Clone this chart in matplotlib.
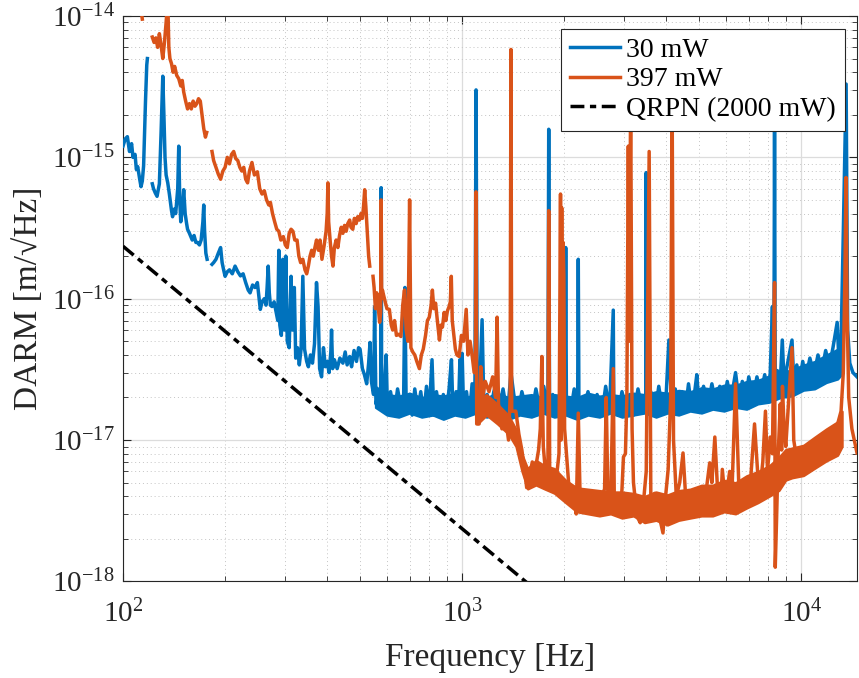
import numpy as np
import matplotlib
matplotlib.use("Agg")
import matplotlib.pyplot as plt
from matplotlib.ticker import LogLocator, NullFormatter

plt.rcParams['font.family'] = ['Liberation Serif', 'DejaVu Serif']
plt.rcParams['mathtext.fontset'] = 'custom'
plt.rcParams['mathtext.rm'] = 'Liberation Serif'
plt.rcParams['mathtext.it'] = 'Liberation Serif:italic'
plt.rcParams['axes.unicode_minus'] = False

# DARM ASD, values in units of 1e-18 m/sqrt(Hz)
UNIT = 1e-18
nan = np.nan

# 30 mW trace (nan = gap in the data)
blue_f = [100, 101.5, 103, 104.5, 106, 107, 108.5, 109.5, 110.5, 112, 113, 114, 115, 116.5, 117.5, 118, nan,
          122, 123, 124.5, 126, 128, 129.5, 131, 132, 133, 134, 135.5, 137, 139, 140, 141.5, 143, 145, 146, 147,
          148, 149.5, 151, 152.5, 154, 155, 157, 160, 162, 164, 166, 168, 170, 172, 173, 174, 175.5, 177, nan,
          183, 185, 188, 191, 194, 196, 198, 200, 203, 206, 210, 214, 218, 222, 226, 230, 234, 237, 241, 245,
          249, 252, 254, 257, 261, 264, 266, 268, 270, 272, 275, 279, 283, 286, 288, 290, 293, 296, 299, 302,
          305, 309, 313, 316, 320, 323, 327, 331, 335, 339, 343, 348, 352, 357, 362, 367, 372, 376, 380, 385,
          390, 395, 400, 405, 410, 412, 415, 420, 428, 436, 445, 452, 458, 466, 472, 480, 488, 495, 500, 508,
          515, 523, 530, 535, 540, 548, 552, 557, 565, 572, 575, 577, 579, 585, 590, 597, 602, 615, 630, 645,
          660, 672, 678, 684, 700, 712, 725, 740, 755, 770, 785, 800, 815, 825, 840, 860, 880, 900, 915, 930,
          940, 960, 975, 985, 992, 1000, 1010, 1030, 1050, 1070, 1090, 1099, 1108, 1125, 1145, 1160, 1185, 1210,
          1240, 1262, 1280, 1320, 1360, 1393, 1420, 1460, 1500, 1550, 1600, 1650, 1700, 1740, 1790, 1800, 1810,
          1850, 1900, 1950, 2010, 2020, 2030, 2080, 2140, 2190, 2200, 2210, 2280, 2350, 2420, 2500, 2580, 2650,
          2720, 2790, 2800, 2880, 2960, 3040, 3120, 3200, 3300, 3400, 3480, 3490, 3500, 3600, 3700, 3800, 3900,
          4000, 4070, 4150, 4250, 4350, 4450, 4550, 4650, 4750, 4850, 4920, 5000, 5150, 5300, 5450, 5600, 5750,
          5900, 6050, 6200, 6400, 6550, 6700, 6850, 7000, 7200, 7400, 7600, 7800, 8000, 8100, 8220, 8300, 8340,
          8380, 8500, 8650, 8790, 8900, 9050, 9390, 9500, 9700, 9900, 10100, 10300, 10600, 10900, 11200, 11500,
          11800, 12100, 12400, 12760, 12900, 13100, 13300, 13560, 13700, 13900, 14200, 14600]
blue_asd = [1200, 1350, 1400, 1100, 1250, 1000, 1050, 820, 860, 700, 620, 680, 870, 2500, 4500, 5000, nan,
            650, 600, 560, 530, 650, 1500, 3750, 2000, 1000, 750, 660, 550, 420, 380, 430, 400, 600, 1200, 500,
            350, 420, 590, 400, 340, 310, 290, 260, 280, 250, 250, 240, 260, 350, 460, 300, 210, 190, nan,
            175, 180, 190, 210, 230, 180, 160, 144, 155, 160, 150, 170, 155, 145, 150, 130, 115, 110, 125, 120,
            130, 100, 84, 95, 100, 90, 120, 170, 110, 90, 88, 95, 80, 70, 220, 65, 55, 190, 60, 200,
            50, 45, 144, 60, 120, 38, 45, 34, 44, 144, 44, 36, 33, 40, 35, 48, 130, 88, 32, 28,
            45, 33, 36, 30, 42, 60, 32, 37, 32, 38, 35, 42, 34, 39, 33, 43, 36, 45, 44, 32,
            29, 25, 35, 49, 26, 21, 88, 18, 21, 19, 20, 610, 22, 18, 24, 40, 17, 22, 15, 23,
            17, 19, 120, 16, 21, 15, 23, 16, 22, 15, 24, 16, 37, 15, 22, 15, 21, 16, 23, 37,
            15, 22, 16, 37, 15, 41, 16, 22, 15, 25, 16, 3000, 16, 22, 71, 15, 21, 16,
            22, 25, 16, 23, 15, 30, 21, 15, 22, 16, 15, 23, 16, 24, 16, 1580, 16,
            21, 15, 22, 16, 230, 16, 15, 23, 16, 190, 16, 15, 22, 16, 21, 15, 24,
            16, 83, 17, 15, 22, 16, 21, 15, 23, 16, 16, 780, 17, 22, 15, 24, 16,
            22, 51, 16, 23, 17, 22, 16, 25, 17, 22, 29, 17, 24, 17, 25, 18, 24,
            18, 26, 19, 30, 19, 26, 19, 28, 20, 28, 21, 29, 21, 30, 88, 23, 1600,
            22, 31, 23, 51, 25, 32, 51, 26, 34, 26, 36, 27, 38, 29, 40, 31,
            43, 33, 45, 68, 38, 48, 290, 3300, 60, 35, 30, 28]

# noise band of the 30 mW trace (lower / upper edge)
blue_band_f = [555, 600, 650, 700, 760, 820, 880, 950, 1020, 1100, 1180, 1270, 1370, 1480, 1600, 1730, 1870,
               2020, 2180, 2350, 2540, 2740, 2960, 3200, 3450, 3730, 4030, 4350, 4700, 5080, 5480, 5920, 6400,
               6900, 7450, 8050, 8700, 9400, 10150, 10950, 11850, 12800, 13300]
blue_band_lo = [17, 15, 14.5, 15.5, 14.5, 15, 14, 15, 14.5, 15.5, 14.5, 15, 14, 15, 14.5, 15.5, 14.5,
                15, 14, 15, 14.5, 15.5, 14.5, 15, 15.5, 14.5, 15.5, 15, 16, 15.5, 16.5, 16, 17,
                16.5, 18, 18.5, 20, 20.5, 22.5, 23, 25.5, 27, 30]
blue_band_hi = [24, 21, 20.5, 21.5, 20, 21, 20.5, 21.5, 20, 21, 20, 21.5, 20, 20.5, 21, 20, 21,
                20.5, 20, 21.5, 20.5, 21, 20.5, 21.5, 21, 22, 21.5, 22.5, 22, 23.5, 23, 24.5, 24.5,
                26, 26.5, 28.5, 30, 31.5, 34, 36, 40, 44, 48]

# 397 mW trace
orange_f = [112, 114, nan,
            122, 123.5, 125, 126.5, 128, 129.5, 131, 132.5, 134, 135.5, 136.5, 137.5, 139, 140.5, 142, 144, 146,
            148, 149.5, 151, 153, 155, 157, 159, 161, 163, 165, 167, 169, 171, 173, 175, 176.5, nan,
            183, 185, 188, 191, 194, 197, 200, 203, 206, 209, 212, 215, 218, 221, 224, 227, 230, 233, 236, 240,
            244, 249, 253, 257, 261, 265, 269, 272, 276, 280, 284, 288, 292, 297, 301, 305, 309, 313, 317, 321,
            326, 330, 334, 339, 344, 348, 352, 356, 360, 364, 368, 372, 377, 381, 386, 392, 397, 400, 402, 404,
            408, 412, 416, 420, 425, 430, 435, 440, 445, 450, 455, 460, 466, 470, 476, 481, 487, 492, 498, 503,
            508, 512, 516, 520, 525, 530, 534, nan,
            546, 550, 555, 560, 565, 571, 575, 577, 579, 582, 590, 600, 610, 618, 624, 632, 640, 650, 660, 668,
            676, 684, 692, 700, 706, 715, 725, 735, 748, 758, 768, 780, 790, 800, 810, 817, 825, 835, 845, 857,
            866, 875, 885, 895, 905, 915, 923, 929, 935, 945, 955, 965, 980, 995, 1010, 1028, 1040, 1055, 1071,
            1085, 1094, 1099, 1104, 1122, 1135, 1150, 1170, 1200, 1230, 1255, 1268, 1280, 1310, 1340, 1370, 1385,
            1393, 1400, 1440, 1470, 1500, 1530, 1550, 1580, 1610, 1640, 1680, 1700, 1718, 1735, 1760, 1790, 1800,
            1812, 1850, 1890, 1930, 1950, 1958, 1966, 1975, 1985, 1995, 2005, 2030, 2060, 2100, 2140, 2170, 2200,
            2230, 2280, 2350, 2420, 2480, 2520, 2580, 2630, 2660, 2690, 2740, 2790, 2810, 2860, 2925, 2960, 2990,
            3030, 3060, 3090, 3110, 3140, 3170, 3200, 3250, 3300, 3350, 3420, 3490, 3560, 3600, 3700, 3800, 3910,
            3980, 4050, 4120, 4160, 4200, 4280, 4380, 4480, 4560, 4640, 4720, 4800, 4950, 5100, 5250, 5370, 5450,
            5560, 5650, 5780, 5850, 5950, 6050, 6150, 6250, 6400, 6550, 6750, 6950, 7100, 7280, 7450, 7590, 7700,
            7840, 7950, 8100, 8220, 8340, 8380, 8450, 8550, 8670, 8750, 8800, 8900, 9000, 9390, 9500, 9600, 9900,
            10200, 10600, 11000, 11400, 11800, 12300, 12800, 13100, 13300, 13450, 13550, 13650, 13800, 14100, 14600]
orange_asd = [13000, 9500, nan,
              7100, 6500, 7000, 6000, 7500, 6200, 5000, 6500, 9000, 13000, 6000, 5000, 4600, 4000, 4400, 3800, 3600,
              3200, 3500, 2900, 2500, 2200, 2400, 2200, 2500, 2300, 2400, 2600, 2500, 2000, 1600, 1390, 1500, nan,
              1100, 950, 850, 760, 700, 800, 850, 1000, 900, 1050, 1100, 980, 950, 850, 800, 850, 700, 660, 800, 920,
              750, 790, 600, 550, 580, 500, 460, 480, 400, 350, 310, 300, 260, 275, 240, 230, 290, 310, 300, 260,
              260, 200, 180, 190, 160, 150, 170, 200, 220, 200, 230, 260, 220, 260, 190, 240, 300, 400, 660, 350,
              260, 200, 170, 230, 260, 230, 280, 320, 290, 330, 300, 340, 360, 320, 310, 370, 340, 380, 360, 400,
              370, 450, 590, 450, 300, 200, 170, nan,
              144, 120, 85, 110, 90, 68, 80, 500, 100, 115, 100, 85, 84, 65, 60, 70, 55, 56, 54, 90,
              115, 60, 50, 500, 45, 42, 40, 36, 32, 40, 44, 55, 70, 74, 90, 115, 85, 93, 70, 51,
              65, 63, 80, 70, 82, 88, 95, 144, 70, 55, 44, 40, 39, 55, 50, 84, 40, 50, 39,
              30, 30, 570, 13, 13, 33, 20, 26, 22, 28, 20, 74, 18, 12, 15, 10, 20,
              5800, 16, 16, 11, 8.5, 6, 4.6, 5.5, 7, 6, 8.5, 12, 39, 9, 6, 5.5, 420,
              5.5, 5.2, 5, 8, 550, 10, 440, 20, 250, 144, 12, 8, 5, 3.5, 4, 3, 15.5,
              3.5, 3.2, 4, 3.2, 3.8, 3.3, 4, 4.5, 20, 4, 3.2, 32, 3.5, 3.8, 3, 4.5, 7.6,
              8, 20, 1200, 50, 3000, 12, 5, 3.5, 2.8, 2.6, 3.5, 6, 1100, 4, 4.2, 3, 2.2,
              4, 6.2, 20, 3000, 10, 4, 5, 8.1, 4, 3.5, 3.2, 4, 4.4, 3.5, 4.5, 6.9, 5,
              10.5, 5, 3.2, 6.2, 4, 4.5, 6, 4.5, 25, 4.4, 4.8, 5, 5.5, 13, 5.5, 5, 7,
              16, 6, 10.5, 8, 130, 1.26, 2.6, 8, 18, 8.5, 24, 12, 9, 45, 10, 8.5, 8,
              7.6, 8.5, 9, 9.5, 10.5, 11.5, 13, 16, 30, 150, 720, 80, 20, 12, 8.1]

# noise band of the 397 mW trace
orange_band_f = [1110, 1180, 1270, 1370, 1440, 1500, 1560, 1650, 1750, 1870, 2020, 2180, 2350, 2540, 2740,
                 2960, 3200, 3450, 3730, 4030, 4350, 4700, 5080, 5480, 5920, 6400, 6900, 7450, 8050, 8600,
                 9000, 9400, 10150, 10950, 11850, 12800, 13200]
orange_band_lo = [13, 15, 13, 11, 9, 6, 4.5, 4.8, 4.5, 4.2, 3.6, 3.1, 3.0, 2.9, 3.0,
                  2.8, 2.9, 2.6, 2.7, 2.5, 2.7, 2.8, 2.9, 2.9, 3.1, 3.0, 3.3, 3.6, 4.0, 4.4,
                  5.2, 5.4, 5.6, 6.3, 7.1, 7.8, 9]
orange_band_hi = [19, 21, 18, 15, 12, 8, 6.3, 7.2, 6.6, 6.3, 5.2, 4.6, 4.5, 4.4, 4.3,
                  4.3, 4.2, 4.0, 4.3, 4.1, 4.4, 4.5, 4.8, 4.8, 5.2, 5.0, 5.6, 6.0, 6.6, 7.6,
                  8.6, 8.8, 9.2, 10.5, 12, 13.5, 16]

# quantum radiation pressure noise at 2000 mW
qrpn_f = [100, 2000]
qrpn_asd = [235, 0.59]

c_blue = '#0072BD'
c_orange = '#D95319'
dark = '#262626'

fig = plt.figure(figsize=(8.59, 6.78), dpi=100)
ax = fig.add_axes([0.1432, 0.1425, 0.8545, 0.8339])

u = lambda v: np.array(v, dtype=float) * UNIT

ax.fill_between(blue_band_f, u(blue_band_lo), u(blue_band_hi), color=c_blue, lw=1.5, zorder=2)
ax.plot(blue_f, u(blue_asd), color=c_blue, lw=2.5, label='30 mW', zorder=3)
ax.fill_between(orange_band_f, u(orange_band_lo), u(orange_band_hi), color=c_orange, lw=1.5, zorder=4)
ax.plot(orange_f, u(orange_asd), color=c_orange, lw=2.5, label='397 mW', zorder=5)
ax.plot(qrpn_f, u(qrpn_asd), color='k', lw=2.5, dashes=(4.0, 1.6, 1.8, 1.6),
        label='QRPN (2000 mW)', zorder=6)

ax.set_xscale('log')
ax.set_yscale('log')
ax.set_xlim(100, 14600)
ax.set_ylim(1e-18, 1e-14)

ax.xaxis.set_major_locator(LogLocator(base=10, numticks=10))
ax.yaxis.set_major_locator(LogLocator(base=10, numticks=10))
ax.xaxis.set_minor_locator(LogLocator(base=10, subs=np.arange(2, 10), numticks=20))
ax.yaxis.set_minor_locator(LogLocator(base=10, subs=np.arange(2, 10), numticks=20))
ax.xaxis.set_minor_formatter(NullFormatter())
ax.yaxis.set_minor_formatter(NullFormatter())

ax.grid(True, which='major', color='#dcdcdc', lw=0.9, ls='-', zorder=0)
ax.grid(True, which='minor', color='#c4c4c4', lw=0.7, ls=(0, (1, 3)), zorder=0)
ax.set_axisbelow(True)

ax.tick_params(which='both', direction='in', top=True, right=True, colors=dark, labelcolor=dark)
ax.tick_params(which='major', length=6, width=0.8, labelsize=21)
ax.tick_params(axis='x', which='major', pad=13)
ax.tick_params(axis='y', which='major', pad=6)
ax.tick_params(which='minor', length=3.5, width=0.6)
for s in ax.spines.values():
    s.set_color(dark)
    s.set_linewidth(0.8)

ax.set_xlabel('Frequency [Hz]', fontsize=24, color=dark)
ax.set_ylabel('DARM [m/\u221aHz]', fontsize=24, color=dark)
ax.xaxis.set_label_coords(0.5, -0.108)
ax.yaxis.set_label_coords(-0.108, 0.5)

leg = ax.legend(loc='upper right', fontsize=20, frameon=True, fancybox=False, framealpha=1,
                edgecolor=dark, handlelength=1.8, handletextpad=0.2, labelspacing=0.15,
                borderpad=0.32, borderaxespad=0.45)
leg.get_frame().set_linewidth(0.8)
leg.set_zorder(10)

fig.savefig('out.png', dpi=100)
